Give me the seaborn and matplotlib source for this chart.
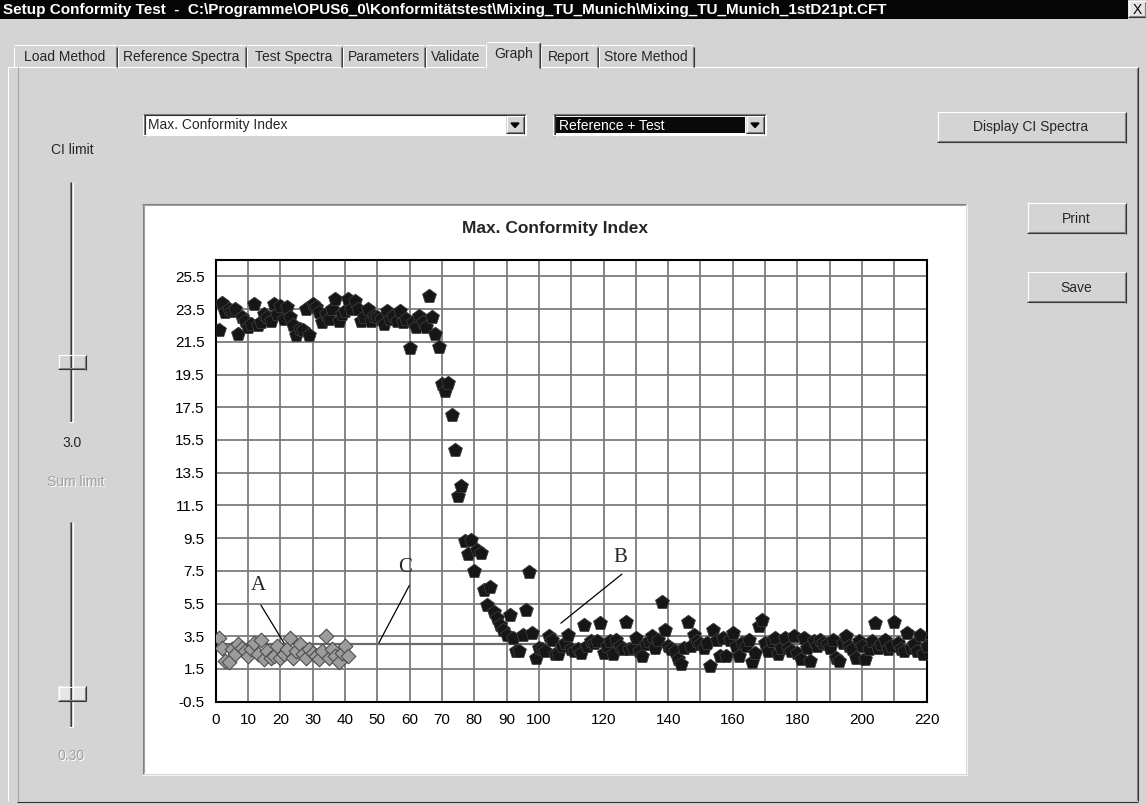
import matplotlib
matplotlib.use("Agg")
import matplotlib.pyplot as plt
import seaborn as sns
import pandas as pd
from matplotlib.patches import Rectangle, Polygon

# --- data ---
ref_x = list(range(1, 42))
ref_y = [3.4, 2.8, 2.0, 1.9, 2.7, 2.4, 3.0, 2.8, 2.6, 2.3,
         2.7, 3.1, 2.4, 3.3, 2.1, 2.6, 2.2, 2.3, 2.9, 2.2,
         2.4, 2.7, 3.4, 2.2, 2.6, 3.0, 2.4, 2.2, 2.7, 2.5,
         2.3, 2.1, 2.6, 3.5, 2.2, 2.7, 2.3, 1.9, 2.5, 2.9,
         2.3]

test_x = list(range(1, 221))
test_y = [22.2, 23.9, 23.3, 23.5, 23.4, 23.5, 22.0, 23.0, 22.8, 22.4,
          22.6, 23.8, 22.5, 22.7, 23.2, 23.0, 22.8, 23.8, 23.2, 23.7,
          22.9, 23.6, 23.0, 22.5, 21.9, 22.3, 22.2, 23.5, 21.9, 23.8,
          23.6, 23.3, 22.7, 23.2, 22.9, 23.5, 24.1, 22.8, 23.2, 23.4,
          24.1, 23.5, 24.0, 23.5, 22.8, 23.0, 23.5, 22.8, 23.1, 23.0,
          22.9, 22.6, 23.4, 22.9, 23.1, 22.8, 23.4, 22.7, 22.9, 21.1,
          22.7, 22.4, 23.1, 22.7, 22.4, 24.3, 23.0, 22.0, 21.2, 18.9,
          18.5, 19.0, 17.0, 14.9, 12.1, 12.7, 9.3, 8.5, 9.4, 7.5,
          8.8, 8.6, 6.3, 5.4, 6.5, 5.0, 4.6, 4.2, 3.9, 3.6,
          4.8, 3.4, 2.6, 2.6, 3.6, 5.1, 7.4, 3.7, 2.2, 2.8,
          2.7, 2.6, 3.5, 3.3, 2.4, 2.4, 2.9, 3.1, 3.6, 2.7,
          2.6, 2.7, 2.5, 4.2, 2.9, 3.2, 3.1, 3.2, 4.3, 2.5,
          2.9, 3.2, 2.4, 3.3, 2.9, 2.7, 4.4, 2.7, 2.8, 3.4,
          2.6, 2.3, 3.0, 3.2, 3.5, 2.8, 3.3, 5.6, 3.9, 2.9,
          2.7, 2.6, 2.1, 1.8, 2.8, 4.4, 2.9, 3.6, 3.2, 3.0,
          2.8, 3.1, 1.7, 3.9, 3.3, 2.3, 3.4, 2.3, 3.3, 3.7,
          2.9, 2.3, 3.1, 2.9, 3.3, 1.9, 2.5, 4.1, 4.5, 3.1,
          2.6, 3.2, 3.4, 2.4, 2.8, 3.4, 2.8, 2.6, 3.5, 2.5,
          2.1, 3.4, 2.8, 2.0, 3.2, 2.9, 3.3, 3.1, 3.0, 2.8,
          3.3, 2.2, 2.0, 3.1, 3.5, 2.9, 2.7, 2.2, 3.2, 2.9,
          2.1, 2.7, 3.2, 4.3, 2.8, 3.0, 3.3, 2.7, 2.9, 4.4,
          3.1, 2.7, 2.6, 3.7, 2.8, 3.0, 2.6, 3.6, 2.4, 2.9]

ci_limit = 3.0
x_ticks = list(range(0, 221, 10))
x_labels = [str(v) if (v <= 100 or v % 20 == 0) else "" for v in x_ticks]
y_ticks = [-0.5, 1.5, 3.5, 5.5, 7.5, 9.5, 11.5, 13.5, 15.5, 17.5, 19.5, 21.5, 23.5, 25.5]
y_labels = ["%.1f" % v for v in y_ticks]

tab_names = ["Load Method", "Reference Spectra", "Test Spectra", "Parameters",
             "Validate", "Graph", "Report", "Store Method"]
window_title = ("Setup Conformity Test  -  C:\\Programme\\OPUS6_0\\Konformitätstest"
                "\\Mixing_TU_Munich\\Mixing_TU_Munich_1stD21pt.CFT")

# --- style ---
sns.set_style("white")
plt.rcParams["font.family"] = ["Liberation Sans", "DejaVu Sans"]

GRAY = "#d4d4d4"
DARK = "#808080"
W, H = 1146, 805

fig = plt.figure(figsize=(W / 100, H / 100), dpi=100)
fig.patch.set_facecolor(GRAY)

ui = fig.add_axes([0, 0, 1, 1])
ui.set_xlim(0, W)
ui.set_ylim(H, 0)
ui.axis("off")


def box(x0, y0, x1, y1, face, z=1):
    ui.add_patch(Rectangle((x0, y0), x1 - x0, y1 - y0, facecolor=face,
                           edgecolor="none", zorder=z))


def hl(x0, x1, y, c, z=2):
    ui.plot([x0, x1], [y, y], color=c, lw=0.8, solid_capstyle="butt", zorder=z)


def vl(x, y0, y1, c, z=2):
    ui.plot([x, x], [y0, y1], color=c, lw=0.8, solid_capstyle="butt", zorder=z)


def raised(x0, y0, x1, y1, face=GRAY):
    box(x0, y0, x1, y1, face)
    hl(x0, x1, y0 + 0.5, "white"); vl(x0 + 0.5, y0, y1, "white")
    hl(x0, x1, y1 - 0.5, "#303030"); vl(x1 - 0.5, y0, y1, "#303030")
    hl(x0 + 1, x1 - 1, y1 - 1.5, DARK); vl(x1 - 1.5, y0 + 1, y1 - 1, DARK)


def sunken(x0, y0, x1, y1, face="white"):
    box(x0, y0, x1, y1, face)
    hl(x0, x1, y0 + 0.5, DARK); vl(x0 + 0.5, y0, y1, DARK)
    hl(x0 + 1, x1 - 1, y0 + 1.5, "#303030"); vl(x0 + 1.5, y0 + 1, y1 - 1, "#303030")
    hl(x0, x1, y1 - 0.5, "white"); vl(x1 - 0.5, y0, y1, "white")


def arrow_button(x0, y0, x1, y1):
    raised(x0, y0, x1, y1)
    cx, cy = (x0 + x1) / 2, (y0 + y1) / 2
    ui.add_patch(Polygon([[cx - 4, cy - 2], [cx + 4, cy - 2], [cx, cy + 2.5]],
                         closed=True, facecolor="black", edgecolor="black", zorder=3))


ui_font = 10
# title bar
box(0, 0, 1128, 19, "#050505")
raised(1128, 1, W, 18, face="#e4e4e4")
ui.text(1137, 10, "X", ha="center", va="center", fontsize=10, color="black", zorder=4)
ui.text(3, 10, window_title, ha="left", va="center", fontsize=11,
        fontweight="bold", color="white",
        family=["Liberation Sans Narrow", "Liberation Sans", "DejaVu Sans"])

# tab page frame
hl(8, 486, 67.5, "white"); hl(541, 1138, 67.5, "white")
vl(7.5, 67, 801, "white")
vl(17.5, 67, 801, "#a8a8a8")
vl(1137.5, 67, 801, "#303030"); vl(1136.5, 68, 800, DARK)
hl(17, 1138, 801.5, "#303030")

# tabs
tab_edges = [13, 117, 246, 342, 425, 487, 540, 598, 694]
for i, name in enumerate(tab_names):
    x0, x1 = tab_edges[i], tab_edges[i + 1]
    if name == "Graph":
        box(x0 - 2, 42, x1 + 1, 69, GRAY, z=3)
        hl(x0, x1 - 1, 42.5, "white", z=4); vl(x0 - 1.5, 44, 68, "white", z=4)
        vl(x1 - 0.5, 43, 68, "#303030", z=4); vl(x1 - 1.5, 43, 68, DARK, z=4)
        ui.text((x0 + x1) / 2, 54, name, ha="center", va="center", fontsize=ui_font, zorder=5)
    else:
        hl(x0 + 1, x1 - 1, 45.5, "white"); vl(x0 + 0.5, 47, 67, "white")
        vl(x1 - 0.5, 47, 67, "#303030"); vl(x1 - 1.5, 47, 67, DARK)
        ui.text((x0 + x1) / 2, 57, name, ha="center", va="center", fontsize=ui_font)

# dropdowns and buttons
sunken(143, 114, 526, 136)
ui.text(148, 125.5, "Max. Conformity Index", ha="left", va="center", fontsize=ui_font)
arrow_button(506, 116, 524, 134)

sunken(553, 114, 766, 136)
box(556, 117, 745, 133, "#0a0a0a")
ui.text(559, 125.5, "Reference + Test", ha="left", va="center", fontsize=ui_font, color="white")
arrow_button(746, 116, 764, 134)

raised(937, 112, 1126, 143)
ui.text(1031, 127.5, "Display CI Spectra", ha="center", va="center", fontsize=ui_font)
raised(1027, 203, 1126, 234)
ui.text(1076, 218.5, "Print", ha="center", va="center", fontsize=ui_font)
raised(1027, 272, 1126, 303)
ui.text(1076, 287.5, "Save", ha="center", va="center", fontsize=ui_font)

# sliders
ui.text(72, 150, "CI limit", ha="center", va="center", fontsize=ui_font)
for top, bottom, thumb, face in [(182, 422, 355, GRAY), (522, 727, 686, "#e6e6e6")]:
    vl(69.5, top, bottom, DARK); vl(70.5, top, bottom, "#303030")
    vl(71.5, top, bottom, GRAY); vl(72.5, top, bottom, "white")
    hl(69, 73, bottom - 0.5, "white")
    raised(58, thumb, 86, thumb + 15, face=face)
ui.text(72, 443, "3.0", ha="center", va="center", fontsize=ui_font)
ui.text(77, 483, "Sum limit", ha="center", va="center", fontsize=ui_font, color="white")
ui.text(76, 482, "Sum limit", ha="center", va="center", fontsize=ui_font, color="#a0a0a0")
ui.text(72, 757, "0.30", ha="center", va="center", fontsize=ui_font, color="white")
ui.text(71, 756, "0.30", ha="center", va="center", fontsize=ui_font, color="#a0a0a0")

# chart panel
box(143, 205, 966, 774, "white")
hl(142, 966, 204.5, DARK); vl(142.5, 204, 774, DARK)
hl(143, 965, 205.5, "#a0a0a0"); vl(143.5, 205, 773, "#a0a0a0")
hl(142, 967, 774.5, "#f4f4f4"); vl(966.5, 204, 775, "#f4f4f4")
ui.text(555, 228, "Max. Conformity Index", ha="center", va="center",
        fontsize=12.5, fontweight="bold")

# --- chart ---
x0p, x1p, y0p, y1p = 215.7, 926.7, 260.0, 701.7
ax = fig.add_axes([x0p / W, 1 - y1p / H, (x1p - x0p) / W, (y1p - y0p) / H])
ax.set_facecolor("white")

ref_df = pd.DataFrame({"x": ref_x, "y": ref_y})
test_df = pd.DataFrame({"x": test_x, "y": test_y})

ax.axhline(ci_limit, color="#6a6a6a", lw=1.6, zorder=2.5)
sns.scatterplot(data=ref_df, x="x", y="y", marker="D", s=56, color="#9c9c9c",
                edgecolor="#4e4e4e", linewidth=0.8, ax=ax, zorder=3)
sns.scatterplot(data=test_df, x="x", y="y", marker="p", s=110, color="#161616",
                edgecolor="#3c3c3c", linewidth=0.6, ax=ax, zorder=4)

ax.set_xlim(0, 220)
ax.set_ylim(-0.5, 26.5)
ax.set_xticks(x_ticks)
ax.set_xticklabels(x_labels)
ax.set_yticks(y_ticks)
ax.set_yticklabels(y_labels)
ax.set_xlabel("")
ax.set_ylabel("")
ax.grid(True, color="#7c7c7c", lw=1.3)
ax.set_axisbelow(True)
for s in ax.spines.values():
    s.set_color("black")
    s.set_linewidth(1.5)
ax.tick_params(direction="out", length=5, width=1.2, colors="black", labelsize=11, pad=3)

# callout letters
serif = ["Liberation Serif", "DejaVu Serif"]
for label, tx, ty, lx0, ly0, lx1, ly1 in [("A", 13.1, 6.6, 14.0, 5.4, 21.1, 3.1),
                                          ("C", 58.6, 7.7, 59.9, 6.6, 50.5, 3.1),
                                          ("B", 125.1, 8.3, 125.7, 7.3, 106.8, 4.3)]:
    ax.text(tx, ty, label, ha="center", va="center", fontsize=15, family=serif, zorder=6)
    ax.plot([lx0, lx1], [ly0, ly1], color="black", lw=0.9, zorder=6)

fig.savefig("out.png", dpi=100, facecolor=fig.get_facecolor())
